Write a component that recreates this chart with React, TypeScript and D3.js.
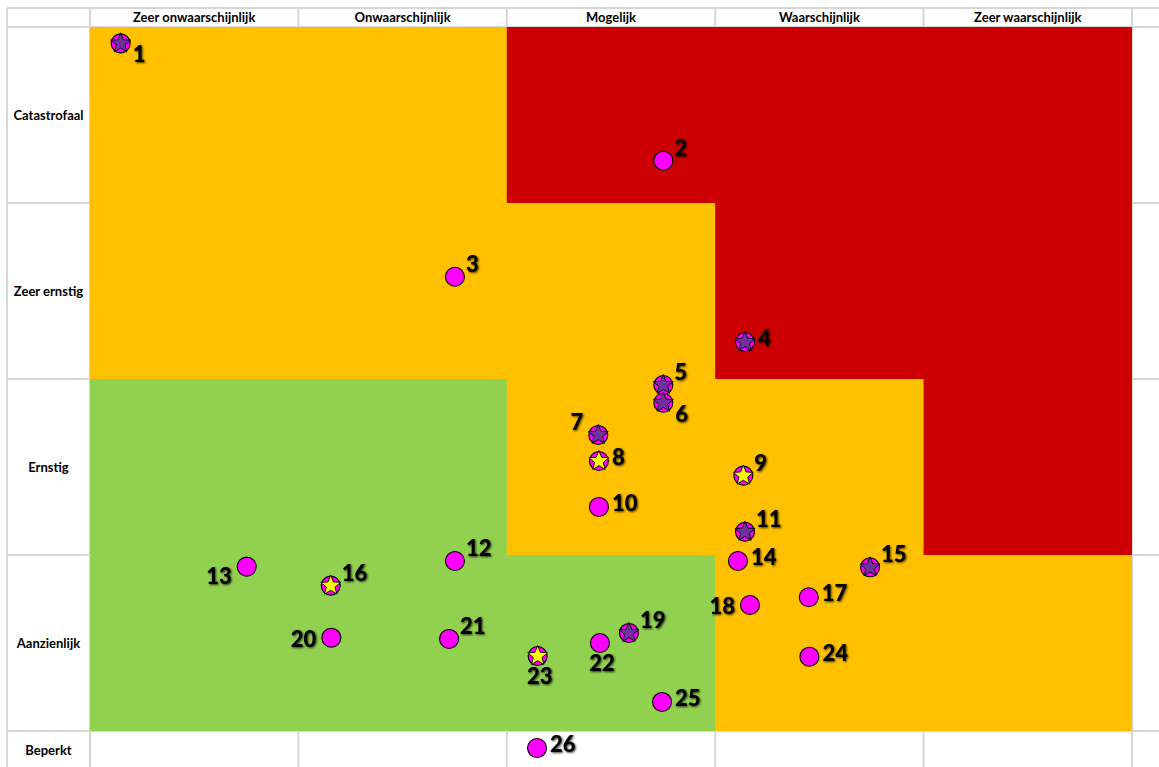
import React from "react";
import * as d3 from "d3";

const likelihoodLabels = ["Zeer onwaarschijnlijk", "Onwaarschijnlijk", "Mogelijk", "Waarschijnlijk", "Zeer waarschijnlijk"];
const impactLabels = ["Catastrofaal", "Zeer ernstig", "Ernstig", "Aanzienlijk", "Beperkt"];
// zone per impact row (top to bottom) and likelihood column; "" = no fill
const zoneRows = [
  ["O", "O", "R", "R", "R"],
  ["O", "O", "O", "R", "R"],
  ["G", "G", "O", "O", "R"],
  ["G", "G", "G", "O", "O"],
  ["", "", "", "", ""],
];
const zoneColors: Record<string, string> = { O: "#FFC000", R: "#CC0000", G: "#92D050" };

const riskIds = [1, 2, 3, 4, 5, 6, 7, 8, 9, 10, 11, 12, 13, 14, 15, 16, 17, 18, 19, 20, 21, 22, 23, 24, 25, 26];
const riskLikelihood = [0.147, 2.751, 1.751, 3.143, 2.751, 2.751, 2.439, 2.442, 3.135, 2.442, 3.143, 1.751, 0.752, 3.109, 3.743, 1.155, 3.449, 3.167, 2.586, 1.158, 1.723, 2.447, 2.148, 3.452, 2.745, 2.145];
const riskImpact = [4.907, 4.24, 3.581, 3.21, 2.966, 2.865, 2.682, 2.534, 2.451, 2.273, 2.132, 1.966, 1.934, 1.966, 1.93, 1.826, 1.76, 1.716, 1.557, 1.53, 1.523, 1.5, 1.426, 1.422, 1.165, 0.903];
// marker: c = plain circle, p = purple star, y = yellow star
const riskMarker = ["p", "c", "c", "p", "p", "p", "p", "y", "y", "c", "p", "c", "c", "c", "p", "y", "c", "c", "p", "c", "c", "c", "y", "c", "c", "c"];
const riskLabelSide = ["se", "ne", "ne", "e", "ne", "se", "nw", "e", "ne", "e", "ne", "ne", "sw", "e", "ne", "ne", "e", "w", "ne", "w", "ne", "s", "s", "e", "e", "e"];

const W = 1159;
const H = 767;
const x = d3.scaleLinear().domain([0, 5]).range([90, 1132]);
const y = d3.scaleLinear().domain([0, 5]).range([907, 27]);
const headerTop = 8;
const tableLeft = 7;
const gridColor = "#d6d6d6";

function starPath(cx: number, cy: number, R: number, r: number) {
  const pts: [number, number][] = [];
  for (let i = 0; i < 10; i++) {
    const a = -Math.PI / 2 + (i * Math.PI) / 5;
    const rad = i % 2 === 0 ? R : r;
    pts.push([cx + rad * Math.cos(a), cy + rad * Math.sin(a)]);
  }
  return d3.line()(pts)! + "Z";
}

const labelOffsets: Record<string, { dx: number; dy: number; anchor: string }> = {
  ne: { dx: 11, dy: -13, anchor: "start" },
  e: { dx: 13, dy: -4, anchor: "start" },
  se: { dx: 12, dy: 11, anchor: "start" },
  w: { dx: -15, dy: 1, anchor: "end" },
  sw: { dx: -15, dy: 9, anchor: "end" },
  nw: { dx: -15, dy: -13, anchor: "end" },
  s: { dx: 2, dy: 20, anchor: "middle" },
};

export default function App() {
  const rowEdges = d3.range(0, 6).map((v) => y(5 - v)); // 27..907
  const colEdges = d3.range(0, 6).map((v) => x(v));
  return (
    <svg width={W} height={H} style={{ position: "absolute", left: 0, top: 0, background: "#fff" }}>
      <defs>
        <filter id="shadow" x="-30%" y="-30%" width="160%" height="160%">
          <feGaussianBlur in="SourceAlpha" stdDeviation="1.3" result="b" />
          <feOffset in="b" dx="1" dy="1" result="o" />
          <feComponentTransfer in="o" result="s">
            <feFuncA type="linear" slope="0.75" />
          </feComponentTransfer>
          <feMerge>
            <feMergeNode in="s" />
            <feMergeNode in="SourceGraphic" />
          </feMerge>
        </filter>
      </defs>
      {/* grid lines */}
      <g stroke={gridColor} strokeWidth={2}>
        <line x1={tableLeft} x2={W} y1={headerTop} y2={headerTop} />
        {rowEdges.map((ry, i) => (
          <line key={"h" + i} x1={tableLeft} x2={W} y1={ry} y2={ry} />
        ))}
        <line x1={tableLeft} x2={tableLeft} y1={headerTop} y2={H} />
        {colEdges.map((cx, i) => (
          <line key={"v" + i} x1={cx} x2={cx} y1={headerTop} y2={H} />
        ))}
      </g>
      {/* zones */}
      {zoneRows.map((row, ri) =>
        row.map((z, ci) => {
          if (!z) return null;
          const nextRowFilled = ri + 1 < zoneRows.length && zoneRows[ri + 1][ci] !== "";
          return (
            <rect
              key={ri + "-" + ci}
              x={x(ci)}
              y={y(5 - ri)}
              width={x(ci + 1) - x(ci) + (ci < 4 ? 2 : 0)}
              height={y(4 - ri) - y(5 - ri) + (nextRowFilled ? 2 : 0)}
              fill={zoneColors[z]}
            />
          );
        })
      )}
      {/* header labels */}
      {likelihoodLabels.map((l, i) => (
        <text
          key={l}
          x={(x(i) + x(i + 1)) / 2}
          y={(headerTop + y(5)) / 2 + 4.5}
          textAnchor="middle"
          fontFamily="Lato, 'Open Sans', sans-serif"
          fontWeight="bold"
          fontSize={13}
          fill="#000"
        >
          {l}
        </text>
      ))}
      {impactLabels.map((l, i) => {
        const top = y(5 - i);
        const bot = i === 4 ? 769 : y(4 - i);
        return (
          <text
            key={l}
            x={(tableLeft + x(0)) / 2}
            y={(top + bot) / 2 + 4.5}
            textAnchor="middle"
            fontFamily="Lato, 'Open Sans', sans-serif"
            fontWeight="bold"
            fontSize={13}
            fill="#000"
          >
            {l}
          </text>
        );
      })}
      {/* markers */}
      {riskIds.map((id, i) => {
        const cx = x(riskLikelihood[i]);
        const cy = y(riskImpact[i]);
        const m = riskMarker[i];
        return (
          <g key={"m" + id}>
            <circle cx={cx} cy={cy} r={9.5} fill="#FF00FF" stroke="#000" strokeWidth={1.1} />
            {m !== "c" && (
              <path
                d={starPath(cx, cy, 10.5, 4.6)}
                fill={m === "p" ? "#7030A0" : "#FFFF00"}
                stroke="#000"
                strokeWidth={0.9}
                strokeLinejoin="miter"
              />
            )}
          </g>
        );
      })}
      {/* labels */}
      {riskIds.map((id, i) => {
        const cx = x(riskLikelihood[i]);
        const cy = y(riskImpact[i]);
        const o = labelOffsets[riskLabelSide[i]];
        return (
          <text
            key={"t" + id}
            x={cx + o.dx}
            y={cy + o.dy}
            dy="0.36em"
            textAnchor={o.anchor}
            fontFamily="Lato, 'Open Sans', sans-serif"
            fontWeight="900"
            fontSize={22}
            fill="#000"
            filter="url(#shadow)"
          >
            {id}
          </text>
        );
      })}
    </svg>
  );
}
